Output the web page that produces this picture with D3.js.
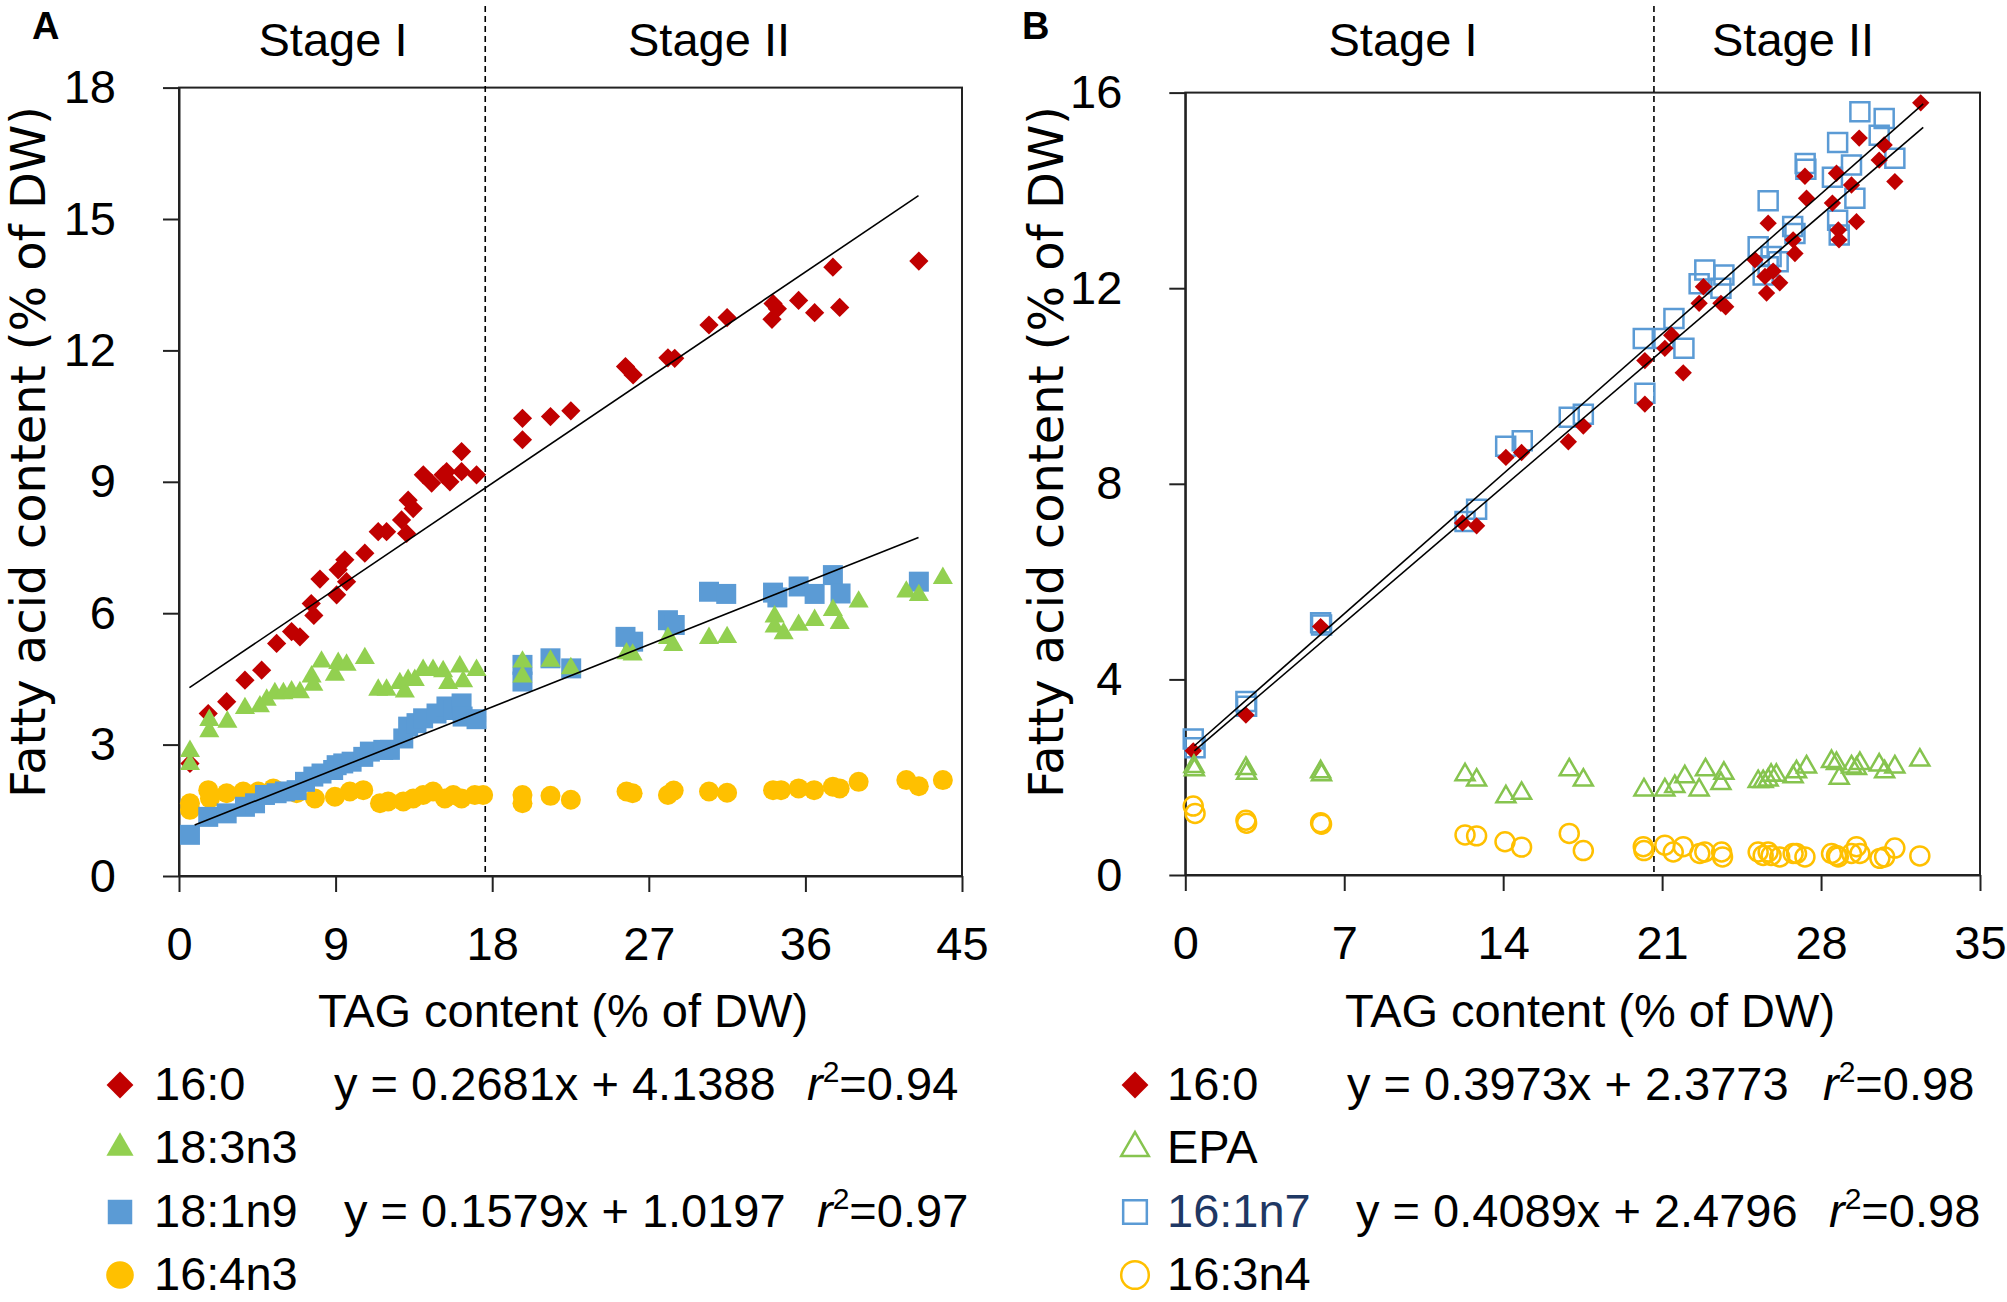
<!DOCTYPE html>
<html>
<head>
<meta charset="utf-8">
<script src="https://cdn.jsdelivr.net/npm/d3@7"></script>
<style>
  body { margin: 0; background: #fff; }
</style>
</head>
<body>
<svg id="chart" width="2007" height="1302"></svg>
<script>
// ---- data (x = TAG % DW, y = fatty acid % DW) ----
const aXTicks = [0, 9, 18, 27, 36, 45];
const aYTicks = [0, 3, 6, 9, 12, 15, 18];
const bXTicks = [0, 7, 14, 21, 28, 35];
const bYTicks = [0, 4, 8, 12, 16];

const a16_0 = [[0.63,2.57],[1.68,3.71],[2.74,3.98],[3.79,4.47],[4.75,4.70],[5.61,5.31],[6.47,5.58],[6.95,5.46],[7.6,6.22],[7.75,5.95],[8.1,6.78],[9.06,6.42],[9.15,6.99],[9.53,7.22],[9.63,6.72],[10.68,7.37],[11.45,7.86],[11.93,7.86],[12.79,8.13],[13.08,7.82],[13.17,8.58],[13.46,8.39],[14.04,9.16],[14.52,8.97],[15.18,9.16],[15.38,9.23],[15.57,9.0],[16.24,9.23],[16.24,9.69],[17.1,9.16],[19.74,10.45],[19.74,9.96],[21.35,10.49],[22.52,10.62],[25.66,11.63],[26.1,11.44],[28.1,11.83],[28.49,11.82],[30.46,12.58],[31.5,12.75],[34.08,12.71],[34.14,13.07],[34.39,12.95],[35.61,13.14],[36.53,12.86],[37.58,13.9],[37.97,12.98],[42.52,14.04]];
const a18_3n3 = [[0.63,2.85],[0.63,2.55],[1.74,3.56],[1.74,3.30],[2.78,3.52],[3.79,3.83],[4.65,3.87],[5.04,4.02],[5.51,4.17],[6.0,4.17],[6.47,4.21],[6.95,4.19],[7.62,4.55],[7.72,4.36],[8.19,4.89],[8.96,4.59],[9.15,4.86],[9.63,4.82],[10.68,4.97],[11.45,4.25],[11.93,4.25],[12.69,4.40],[12.98,4.21],[13.17,4.47],[13.55,4.47],[14.03,4.70],[14.6,4.70],[15.18,4.67],[15.47,4.40],[16.14,4.78],[16.33,4.44],[17.1,4.70],[19.74,4.89],[19.74,4.55],[21.35,4.91],[22.52,4.74],[25.72,5.08],[26.07,5.05],[28.1,5.43],[28.4,5.27],[30.46,5.43],[31.5,5.45],[34.23,5.92],[34.23,5.69],[34.75,5.54],[35.61,5.73],[36.53,5.84],[37.58,6.07],[37.97,5.77],[39.06,6.26],[41.8,6.49],[42.52,6.41],[43.9,6.8]];
const a18_1n9 = [[0.63,0.94],[1.68,1.35],[2.74,1.43],[3.79,1.58],[4.37,1.66],[4.94,1.85],[5.61,1.89],[6.09,1.93],[6.76,1.96],[7.24,2.15],[7.72,2.27],[8.19,2.34],[8.86,2.42],[9.06,2.53],[9.44,2.57],[9.92,2.61],[10.59,2.72],[10.97,2.84],[11.74,2.88],[12.12,2.88],[12.89,3.14],[13.17,3.41],[13.65,3.49],[14.03,3.60],[14.8,3.71],[15.37,3.87],[15.76,3.79],[16.24,3.94],[16.3,3.64],[17.1,3.58],[19.74,4.82],[19.74,4.44],[21.35,4.97],[22.54,4.74],[25.66,5.46],[26.1,5.35],[28.1,5.84],[28.49,5.73],[30.46,6.49],[31.45,6.44],[34.14,6.47],[34.39,6.36],[35.61,6.61],[36.53,6.44],[37.58,6.87],[38.02,6.45],[42.52,6.72]];
const a16_4n3 = [[0.63,1.66],[0.63,1.51],[1.68,1.96],[1.78,1.77],[2.74,1.89],[3.69,1.93],[4.56,1.93],[5.42,2.0],[6.76,1.89],[7.81,1.77],[8.96,1.81],[9.82,1.93],[10.59,1.96],[11.55,1.66],[12.02,1.70],[12.89,1.70],[13.46,1.77],[14.03,1.85],[14.6,1.93],[15.28,1.77],[15.76,1.85],[16.24,1.77],[17.0,1.85],[17.48,1.85],[19.74,1.85],[19.74,1.66],[21.35,1.83],[22.52,1.74],[25.72,1.93],[26.07,1.89],[28.1,1.85],[28.43,1.95],[30.46,1.93],[31.5,1.90],[34.14,1.96],[34.6,1.96],[35.61,2.0],[36.5,1.96],[37.58,2.04],[37.97,2.0],[39.06,2.15],[41.8,2.19],[42.52,2.05],[43.9,2.19]];

const b16_0 = [[0.35,2.54],[2.67,3.27],[5.96,5.08],[12.21,7.2],[12.83,7.14],[14.12,8.54],[14.81,8.64],[16.87,8.86],[17.53,9.18],[20.24,9.63],[20.24,10.52],[21.12,10.77],[21.42,11.04],[21.93,10.27],[22.63,11.69],[22.82,12.03],[23.59,11.69],[23.8,11.62],[25.09,12.58],[25.53,12.24],[25.6,11.9],[25.67,13.33],[25.89,12.35],[26.18,12.11],[26.77,12.99],[26.85,12.71],[27.29,14.29],[27.36,13.84],[28.5,13.74],[28.68,14.35],[28.76,13.19],[28.79,12.99],[29.34,14.11],[29.56,13.36],[29.68,15.07],[30.56,14.62],[30.78,14.93],[31.25,14.18],[32.39,15.79]];
const b16_1n7 = [[0.35,2.78],[0.43,2.6],[2.67,3.55],[2.7,3.45],[5.96,5.16],[6.0,5.11],[12.32,7.23],[12.83,7.48],[14.11,8.77],[14.84,8.88],[16.91,9.36],[17.53,9.42],[20.24,9.85],[20.17,10.97],[21.08,10.97],[21.52,11.38],[21.96,10.77],[22.63,12.09],[22.88,12.37],[23.59,12.0],[23.72,12.27],[25.23,12.85],[25.45,12.27],[25.67,13.79],[25.67,12.44],[25.8,12.65],[26.11,12.54],[26.75,13.26],[26.85,13.12],[27.3,14.55],[27.33,14.43],[28.5,14.27],[28.73,14.98],[28.73,13.39],[28.8,13.09],[29.34,14.52],[29.49,13.84],[29.71,15.61],[30.56,15.13],[30.78,15.47],[31.25,14.66]];
const bEPA = [[0.38,2.22],[0.4,2.15],[2.67,2.18],[2.7,2.08],[5.96,2.11],[6.0,2.05],[12.32,2.05],[12.83,1.94],[14.12,1.6],[14.81,1.67],[16.91,2.15],[17.53,1.94],[20.2,1.74],[21.12,1.74],[21.56,1.81],[22.0,2.01],[22.63,1.74],[22.91,2.15],[23.59,1.87],[23.72,2.08],[25.23,1.91],[25.45,1.91],[25.67,1.94],[25.8,2.04],[26.03,2.04],[26.77,2.01],[26.92,2.11],[27.36,2.21],[28.46,2.32],[28.68,2.28],[28.8,1.98],[29.34,2.21],[29.56,2.18],[29.71,2.28],[30.56,2.25],[30.8,2.11],[31.25,2.21],[32.35,2.35]];
const b16_3n4 = [[0.35,1.41],[0.43,1.26],[2.67,1.12],[2.7,1.06],[5.96,1.07],[6.0,1.04],[12.32,0.82],[12.83,0.8],[14.08,0.68],[14.81,0.57],[16.91,0.85],[17.53,0.5],[20.17,0.58],[20.2,0.5],[21.12,0.61],[21.49,0.47],[21.93,0.58],[22.66,0.44],[22.88,0.47],[23.62,0.47],[23.66,0.37],[25.23,0.47],[25.45,0.40],[25.67,0.47],[25.8,0.40],[26.18,0.37],[26.77,0.44],[26.92,0.44],[27.29,0.37],[28.46,0.44],[28.68,0.40],[28.76,0.37],[29.34,0.44],[29.56,0.58],[29.71,0.44],[30.59,0.34],[30.8,0.37],[31.25,0.55],[32.35,0.39]];

// regression lines: [slope, intercept, xStart, xEnd]
const aFits = [[0.2681, 4.1388, 0.6, 42.5], [0.1579, 1.0197, 0.9, 42.5]];
const bFits = [[0.3973, 2.3773, 0.4, 32.5], [0.4089, 2.4796, 0.4, 32.5]];

const aLegend = [
  { label: "16:0", eq: "y = 0.2681x + 4.1388", r2: "=0.94" },
  { label: "18:3n3" },
  { label: "18:1n9", eq: "y = 0.1579x + 1.0197", r2: "=0.97" },
  { label: "16:4n3" }
];
const bLegend = [
  { label: "16:0", eq: "y = 0.3973x + 2.3773", r2: "=0.98" },
  { label: "EPA" },
  { label: "16:1n7", eq: "y = 0.4089x + 2.4796", r2: "=0.98", color: "#1F3864" },
  { label: "16:3n4" }
];

const RED = "#C00000", GREEN = "#92D050", BLUE = "#5B9BD5", GOLD = "#FFC000";
const FONT = "'Liberation Sans', Arial, sans-serif";
const YFONT = "'DejaVu Sans', Verdana, sans-serif";

const svg = d3.select("#chart");

// marker styles
const styles = {
  diamond: (size) => ({ type: d3.symbolSquare, size: size, rot: 45, fill: RED, stroke: "none" }),
  tri:     (size) => ({ type: d3.symbolTriangle, size: size, rot: 0, fill: GREEN, stroke: "none" }),
  square:  (size) => ({ type: d3.symbolSquare, size: size, rot: 0, fill: BLUE, stroke: "none" }),
  circle:  (size) => ({ type: d3.symbolCircle, size: size, rot: 0, fill: GOLD, stroke: "none" }),
  triO:    (size) => ({ type: d3.symbolTriangle, size: size, rot: 0, fill: "none", stroke: "#86C44F" }),
  squareO: (size) => ({ type: d3.symbolSquare, size: size, rot: 0, fill: "none", stroke: BLUE }),
  circleO: (size) => ({ type: d3.symbolCircle, size: size, rot: 0, fill: "none", stroke: GOLD })
};

function drawMarkers(g, data, st, x, y) {
  const sym = d3.symbol().type(st.type).size(st.size);
  g.append("g").selectAll("path")
    .data(data)
    .join("path")
    .attr("d", sym)
    .attr("transform", d => `translate(${x(d[0])},${y(d[1])}) rotate(${st.rot})`)
    .attr("fill", st.fill)
    .attr("stroke", st.stroke)
    .attr("stroke-width", 2.5);
}

function drawPanel(p) {
  const x = d3.scaleLinear().domain([0, p.xMax]).range([p.left, p.right]);
  const y = d3.scaleLinear().domain([0, p.yMax]).range([p.bottom, p.top]);

  // frame
  svg.append("rect")
    .attr("x", p.left).attr("y", p.top)
    .attr("width", p.right - p.left).attr("height", p.bottom - p.top)
    .attr("fill", "none").attr("stroke", "#222").attr("stroke-width", 2);

  // stage divider
  svg.append("line")
    .attr("x1", x(p.stageX)).attr("x2", x(p.stageX))
    .attr("y1", 6).attr("y2", p.bottom)
    .attr("stroke", "#000").attr("stroke-width", 1.6)
    .attr("stroke-dasharray", "6,4");

  // axes
  const yAxis = svg.append("g")
    .attr("transform", `translate(${p.left},0)`)
    .call(d3.axisLeft(y).tickValues(p.yTicks).tickSize(16).tickSizeOuter(0).tickPadding(47));
  const xAxis = svg.append("g")
    .attr("transform", `translate(0,${p.bottom})`)
    .call(d3.axisBottom(x).tickValues(p.xTicks).tickSize(16).tickSizeOuter(0).tickPadding(35));
  [xAxis, yAxis].forEach(ax => {
    ax.selectAll("path, line").attr("stroke", "#222").attr("stroke-width", 2);
    ax.selectAll("text").attr("font-family", FONT).attr("font-size", 47).attr("fill", "#000");
  });

  // markers
  p.series.forEach(s => drawMarkers(svg, s.data, s.style, x, y));

  // trend lines
  const line = d3.line().x(d => x(d[0])).y(d => y(d[1]));
  p.fits.forEach(f => {
    const pts = [[f[2], f[0] * f[2] + f[1]], [f[3], f[0] * f[3] + f[1]]];
    svg.append("path").attr("d", line(pts))
      .attr("fill", "none").attr("stroke", "#000").attr("stroke-width", 1.6);
  });

  // panel letter and stage labels
  svg.append("text").attr("x", p.letterX).attr("y", 39)
    .attr("font-family", FONT).attr("font-weight", "bold").attr("font-size", 38)
    .text(p.letter);
  svg.append("text").attr("x", p.stage1X).attr("y", 56).attr("text-anchor", "middle")
    .attr("font-family", FONT).attr("font-size", 47).text("Stage I");
  svg.append("text").attr("x", p.stage2X).attr("y", 56).attr("text-anchor", "middle")
    .attr("font-family", FONT).attr("font-size", 47).text("Stage II");

  // axis titles
  svg.append("text").attr("x", p.xLabelX).attr("y", 1027).attr("text-anchor", "middle")
    .attr("font-family", FONT).attr("font-size", 47).text("TAG content (% of DW)");
  svg.append("text")
    .attr("transform", `translate(${p.yLabelX},452) rotate(-90)`)
    .attr("text-anchor", "middle")
    .attr("font-family", YFONT).attr("font-size", 48)
    .text("Fatty acid content (% of DW)");

  // legend
  const rowY = [1085, 1148, 1212, 1275];
  p.legend.forEach((item, i) => {
    const st = p.legendStyles[i];
    const sym = d3.symbol().type(st.type).size(st.size);
    svg.append("path").attr("d", sym)
      .attr("transform", `translate(${p.legX},${rowY[i]}) rotate(${st.rot})`)
      .attr("fill", st.fill).attr("stroke", st.stroke).attr("stroke-width", 2.5);
    svg.append("text").attr("x", p.legTextX).attr("y", rowY[i] + 15)
      .attr("font-family", FONT).attr("font-size", 47)
      .attr("fill", item.color || "#000").text(item.label);
    if (item.eq) {
      svg.append("text").attr("x", p.eqX[i]).attr("y", rowY[i] + 15)
        .attr("font-family", FONT).attr("font-size", 47).text(item.eq);
      const r = svg.append("text").attr("x", p.r2X[i]).attr("y", rowY[i] + 15)
        .attr("font-family", FONT).attr("font-size", 47);
      r.append("tspan").attr("font-style", "italic").text("r");
      r.append("tspan").attr("font-size", 30).attr("dy", -18).text("2");
      r.append("tspan").attr("dy", 18).text(item.r2);
    }
  });
}

drawPanel({
  left: 179, right: 962, top: 87.6, bottom: 876, xMax: 45, yMax: 18,
  xTicks: aXTicks, yTicks: aYTicks, stageX: 17.6,
  letter: "A", letterX: 32, stage1X: 333, stage2X: 709,
  xLabelX: 563, yLabelX: 45,
  series: [
    { data: a16_4n3, style: styles.circle(314) },
    { data: a16_0, style: styles.diamond(185) },
    { data: a18_1n9, style: styles.square(400) },
    { data: a18_3n3, style: styles.tri(175) }
  ],
  fits: aFits,
  legend: aLegend,
  legendStyles: [styles.diamond(360), styles.tri(320), styles.square(600), styles.circle(600)],
  legX: 120, legTextX: 154, eqX: [334, 0, 344, 0], r2X: [807, 0, 817, 0]
});

drawPanel({
  left: 1185.3, right: 1980, top: 92.6, bottom: 875, xMax: 35, yMax: 16,
  xTicks: bXTicks, yTicks: bYTicks, stageX: 20.64,
  letter: "B", letterX: 1022, stage1X: 1403, stage2X: 1793,
  xLabelX: 1590, yLabelX: 1063,
  series: [
    { data: b16_1n7, style: styles.squareO(361) },
    { data: b16_0, style: styles.diamond(150) },
    { data: bEPA, style: styles.triO(156) },
    { data: b16_3n4, style: styles.circleO(283) }
  ],
  fits: bFits,
  legend: bLegend,
  legendStyles: [styles.diamond(360), styles.triO(330), styles.squareO(560), styles.circleO(600)],
  legX: 1135, legTextX: 1167, eqX: [1347, 0, 1356, 0], r2X: [1823, 0, 1829, 0]
});
</script>
</body>
</html>
